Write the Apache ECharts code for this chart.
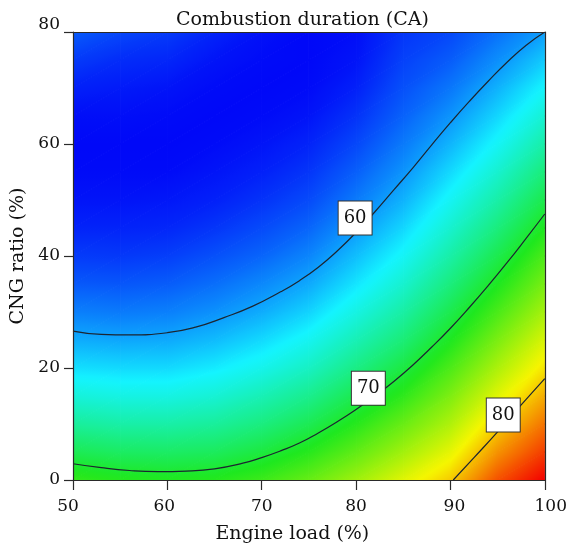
<!DOCTYPE html>
<html>
<head>
<meta charset="utf-8">
<title>Combustion duration (CA)</title>
<script src="https://cdn.jsdelivr.net/npm/echarts@6/dist/echarts.min.js"></script>
<style>
  html, body { margin: 0; padding: 0; background: #ffffff; }
  #chart { width: 570px; height: 549px; }
</style>
</head>
<body>
<div id="chart"></div>
<script>
// Engine load (%) of each grid column
const loads = [50, 55, 60, 65, 70, 75, 80, 85, 90, 95, 100];
// CNG ratio (%) of each grid row
const cngRatios = [0, 5, 10, 15, 20, 25, 30, 35, 40, 45, 50, 55, 60, 65, 70, 75, 80];
// Combustion duration (CA): one row per CNG ratio, one value per engine load
const durationRows = [
  [71.6, 71.0, 70.8, 71.0, 71.9, 73.4, 75.5, 77.9, 80.1, 84.0, 86.6],
  [68.9, 68.4, 68.3, 68.6, 69.6, 71.1, 73.2, 75.6, 78.1, 81.9, 84.7],
  [66.4, 66.0, 66.0, 66.4, 67.4, 68.9, 71.1, 73.5, 76.1, 79.9, 82.9],
  [64.2, 63.9, 63.9, 64.4, 65.5, 66.9, 69.1, 71.4, 74.3, 77.9, 81.1],
  [62.2, 62.0, 62.0, 62.6, 63.6, 65.0, 67.2, 69.5, 72.5, 76.0, 79.3],
  [60.5, 60.3, 60.4, 61.0, 62.0, 63.4, 65.5, 67.7, 70.7, 74.2, 77.6],
  [59.0, 58.8, 59.0, 59.6, 60.5, 61.8, 63.9, 66.1, 69.1, 72.4, 75.8],
  [57.7, 57.6, 57.8, 58.4, 59.3, 60.4, 62.4, 64.6, 67.5, 70.7, 74.1],
  [56.7, 56.6, 56.8, 57.4, 58.1, 59.2, 61.1, 63.2, 66.0, 69.1, 72.5],
  [55.9, 55.9, 56.0, 56.5, 57.2, 58.1, 59.9, 61.9, 64.6, 67.5, 70.8],
  [55.4, 55.4, 55.5, 55.8, 56.4, 57.2, 58.8, 60.7, 63.3, 66.0, 69.2],
  [55.1, 55.1, 55.1, 55.4, 55.8, 56.5, 57.9, 59.7, 62.0, 64.6, 67.6],
  [55.0, 55.0, 55.0, 55.1, 55.4, 55.9, 57.1, 58.8, 60.8, 63.2, 66.0],
  [55.2, 55.2, 55.1, 55.0, 55.1, 55.4, 56.4, 58.0, 59.7, 61.9, 64.5],
  [55.8, 55.6, 55.4, 55.1, 55.0, 55.1, 55.8, 57.4, 58.7, 60.7, 63.0],
  [56.7, 56.2, 56.0, 55.4, 55.1, 55.0, 55.4, 56.9, 57.8, 59.5, 61.5],
  [57.8, 57.1, 56.7, 55.9, 55.3, 55.0, 55.2, 56.5, 57.1, 58.5, 60.0]
];

// Isolines of the duration surface: [engine load, CNG ratio]
const contour60 = [[50, 26.6], [53, 26.0], [56, 25.9], [60, 26.3], [63, 27.3], [66, 29.0],
  [69, 31.0], [72, 33.6], [74, 35.6], [76, 38.0], [78, 40.9], [80, 44.2], [82, 47.9],
  [84, 51.8], [86, 55.7], [88, 59.8], [90, 63.8], [92, 67.6], [94, 71.2], [96, 74.6],
  [98, 77.6], [100, 80]];
const contour70 = [[50, 2.9], [53, 2.2], [56, 1.7], [59, 1.5], [62, 1.6], [65, 2.0],
  [68, 3.0], [70, 4.0], [72, 5.2], [74, 6.6], [76, 8.4], [78, 10.4], [80, 12.6],
  [82, 15.0], [84, 17.6], [86, 20.5], [88, 23.7], [90, 27.1], [92, 30.8], [94, 34.7],
  [96, 38.8], [98, 43.1], [100, 47.5]];
const contour80 = [[90.3, 0], [92.5, 4.0], [95, 8.6], [97.5, 13.4], [100, 18.1]];
const contourLevels = [60, 70, 80];
// Level tags along the isolines: [engine load, CNG ratio, level]
const contourTags = [[79.9, 46.8, 60], [81.3, 16.4, 70], [95.6, 11.6, 80]];

// Axis ticks
const loadTicks = [50, 60, 70, 80, 90, 100];
const cngTicks = [0, 20, 40, 60, 80];

// Blue - cyan - green - yellow - red ramp spread over the data range
const palette = ['#0008f8', '#14f4ff', '#1ee81e', '#f6f600', '#f40000'];
const allValues = durationRows.flat();
const vMin = Math.min(...allValues);
const vMax = Math.max(...allValues);

function parseHex(h) {
  return [parseInt(h.slice(1, 3), 16), parseInt(h.slice(3, 5), 16), parseInt(h.slice(5, 7), 16)];
}
const paletteRgb = palette.map(parseHex);
function colorAt(v) {
  let t = (v - vMin) / (vMax - vMin);
  t = Math.max(0, Math.min(1, t));
  if (echarts.color && echarts.color.lerp) {
    return echarts.color.lerp(t, palette);
  }
  const pos = t * (paletteRgb.length - 1);
  const i = Math.min(Math.floor(pos), paletteRgb.length - 2);
  const f = pos - i;
  const a = paletteRgb[i], b = paletteRgb[i + 1];
  return 'rgb(' + [0, 1, 2].map(k => Math.round(a[k] + (b[k] - a[k]) * f)).join(',') + ')';
}

// Fill of a triangle whose colour follows the plane through its three corner values
function planeFill(P, V) {
  const ax = P[1][0] - P[0][0], ay = P[1][1] - P[0][1];
  const bx = P[2][0] - P[0][0], by = P[2][1] - P[0][1];
  const d1 = V[1] - V[0], d2 = V[2] - V[0];
  const det = ax * by - ay * bx;
  if (Math.abs(det) < 1e-9) return colorAt(V[0]);
  const gx = (d1 * by - ay * d2) / det;
  const gy = (ax * d2 - bx * d1) / det;
  const g2 = gx * gx + gy * gy;
  const lo = Math.min(V[0], V[1], V[2]);
  const hi = Math.max(V[0], V[1], V[2]);
  if (g2 < 1e-12 || hi - lo < 1e-6) return colorAt((lo + hi) / 2);
  const s = (lo - V[0]) / g2, e = (hi - V[0]) / g2;
  const stops = [];
  const n = 6;
  for (let k = 0; k <= n; k++) {
    stops.push({ offset: k / n, color: colorAt(lo + (hi - lo) * k / n) });
  }
  return new echarts.graphic.LinearGradient(
    P[0][0] + gx * s, P[0][1] + gy * s, P[0][0] + gx * e, P[0][1] + gy * e, stops, true);
}

function triangle(P, V) {
  const fill = planeFill(P, V);
  return {
    type: 'polygon',
    shape: { points: P },
    style: { fill: fill, stroke: fill, lineWidth: 1, lineJoin: 'round' },
    silent: true
  };
}

// Grid cells: [load0, cng0, load1, cng1, v00, v10, v01, v11]
const cells = [];
for (let j = 0; j < cngRatios.length - 1; j++) {
  for (let i = 0; i < loads.length - 1; i++) {
    cells.push([loads[i], cngRatios[j], loads[i + 1], cngRatios[j + 1],
      durationRows[j][i], durationRows[j][i + 1], durationRows[j + 1][i], durationRows[j + 1][i + 1]]);
  }
}

function renderCell(params, api) {
  const x0 = api.value(0), y0 = api.value(1), x1 = api.value(2), y1 = api.value(3);
  const p00 = api.coord([x0, y0]), p10 = api.coord([x1, y0]);
  const p01 = api.coord([x0, y1]), p11 = api.coord([x1, y1]);
  const v00 = api.value(4), v10 = api.value(5), v01 = api.value(6), v11 = api.value(7);
  return {
    type: 'group',
    children: [
      triangle([p00, p10, p11], [v00, v10, v11]),
      triangle([p00, p11, p01], [v00, v11, v01])
    ]
  };
}

const serif = 'DejaVu Serif';
const ink = '#111111';
const axisInk = '#2a2a2a';

const loadShift = { 50: [0, 10, 0, 0], 60: [0, 6, 0, 0], 90: [0, 0, 0, 8], 100: [0, 0, 0, 12] };
const loadRich = {};
Object.keys(loadShift).forEach(k => {
  loadRich['t' + k] = { padding: loadShift[k], fontFamily: serif, fontSize: 17, color: ink };
});

const chart = echarts.init(document.getElementById('chart'), null, { renderer: 'canvas' });
chart.setOption({
  animation: false,
  backgroundColor: '#ffffff',
  title: {
    text: 'Combustion duration (CA)',
    left: 176,
    top: 11,
    padding: 0,
    textStyle: { fontFamily: serif, fontSize: 19, fontWeight: 'normal', color: ink }
  },
  grid: { left: 73, right: 24, top: 32, bottom: 69 },
  xAxis: [{
    type: 'value',
    min: loadTicks[0],
    max: loadTicks[loadTicks.length - 1],
    interval: loadTicks[1] - loadTicks[0],
    z: 10,
    name: 'Engine load (%)',
    nameLocation: 'middle',
    nameGap: 45,
    nameTextStyle: { fontFamily: serif, fontSize: 19, color: ink, padding: [0, 33, 0, 0] },
    axisLine: { show: true, onZero: false, lineStyle: { color: axisInk, width: 1.2 } },
    axisTick: { show: true, inside: false, length: 10, lineStyle: { color: axisInk, width: 1.2 } },
    axisLabel: {
      margin: 18,
      fontFamily: serif, fontSize: 17, color: ink,
      formatter: v => loadShift[v] ? '{t' + v + '|' + v + '}' : String(v),
      rich: loadRich
    },
    splitLine: { show: false }
  }, {
    type: 'value',
    position: 'top',
    min: loadTicks[0],
    max: loadTicks[loadTicks.length - 1],
    z: 10,
    axisLine: { show: true, onZero: false, lineStyle: { color: axisInk, width: 1.2 } },
    axisTick: { show: false },
    axisLabel: { show: false },
    splitLine: { show: false }
  }],
  yAxis: [{
    type: 'value',
    min: cngTicks[0],
    max: cngTicks[cngTicks.length - 1],
    interval: cngTicks[1] - cngTicks[0],
    z: 10,
    name: 'CNG ratio (%)',
    nameLocation: 'middle',
    nameGap: 42,
    nameTextStyle: { fontFamily: serif, fontSize: 19, color: ink },
    axisLine: { show: true, onZero: false, lineStyle: { color: axisInk, width: 1.2 } },
    axisTick: { show: true, inside: false, length: 9, lineStyle: { color: axisInk, width: 1.2 } },
    axisLabel: {
      margin: 13,
      fontFamily: serif, fontSize: 17, color: ink,
      formatter: v => v === cngTicks[cngTicks.length - 1] ? '{top|' + v + '}' : String(v),
      rich: { top: { padding: [0, 0, 14, 0], fontFamily: serif, fontSize: 17, color: ink } }
    },
    splitLine: { show: false }
  }, {
    type: 'value',
    position: 'right',
    min: cngTicks[0],
    max: cngTicks[cngTicks.length - 1],
    z: 10,
    axisLine: { show: true, onZero: false, lineStyle: { color: axisInk, width: 1.2 } },
    axisTick: { show: false },
    axisLabel: { show: false },
    splitLine: { show: false }
  }],
  series: [
    {
      type: 'custom',
      name: 'Combustion duration',
      xAxisIndex: 0,
      yAxisIndex: 0,
      clip: true,
      silent: true,
      z: 1,
      dimensions: ['load0', 'cng0', 'load1', 'cng1', 'v00', 'v10', 'v01', 'v11'],
      encode: { x: [0, 2], y: [1, 3] },
      renderItem: renderCell,
      data: cells
    },
    ...[contour60, contour70, contour80].map((line, k) => ({
      type: 'line',
      name: 'Contour ' + contourLevels[k],
      xAxisIndex: 0,
      yAxisIndex: 0,
      data: line,
      smooth: 0.5,
      symbol: 'none',
      silent: true,
      z: 5,
      lineStyle: { color: '#1c2530', width: 1.2 }
    })),
    {
      type: 'scatter',
      name: 'Contour levels',
      xAxisIndex: 0,
      yAxisIndex: 0,
      data: contourTags,
      symbolSize: 1,
      itemStyle: { color: '#ffffff', opacity: 1 },
      silent: true,
      z: 8,
      label: {
        show: true,
        position: 'inside',
        formatter: p => String(p.value[2]),
        opacity: 1,
        fontFamily: serif,
        fontSize: 18,
        color: ink,
        backgroundColor: '#ffffff',
        borderColor: '#333333',
        borderWidth: 1,
        padding: [8, 5, 7, 5]
      }
    }
  ]
});
</script>
</body>
</html>
